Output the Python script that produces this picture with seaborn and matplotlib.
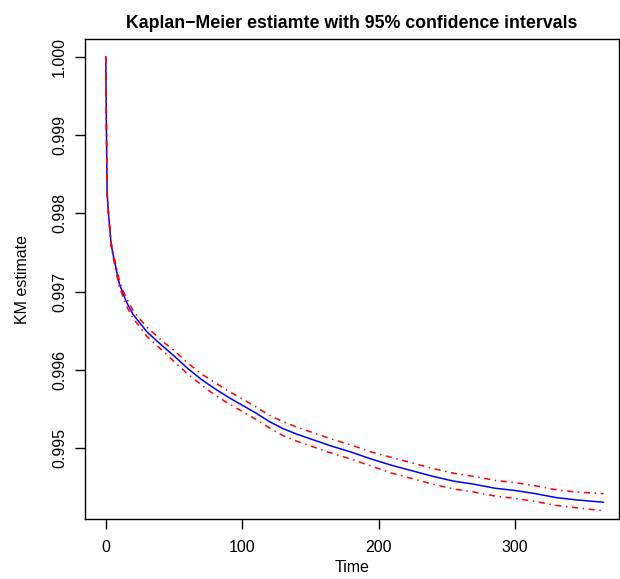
import numpy as np
import pandas as pd
import matplotlib
matplotlib.use("Agg")
import matplotlib.pyplot as plt
import seaborn as sns

sns.set_style("white")
plt.rcParams["font.family"] = ["Liberation Sans", "DejaVu Sans"]
plt.rcParams["text.color"] = "black"
plt.rcParams["axes.labelcolor"] = "black"

# KM estimate with 95% CI
time = [0, 1, 2, 4, 6, 8, 10, 13, 16, 20, 25, 30, 35, 42, 50, 60, 70, 80, 90, 100,
        110, 120, 130, 140, 150, 165, 180, 195, 210, 225, 240, 255, 270, 285, 300,
        315, 330, 345, 365]
km = [1.00000, 0.99826, 0.99800, 0.99760, 0.99742, 0.99726, 0.99710, 0.99696,
      0.99684, 0.99671, 0.99660, 0.99649, 0.99641, 0.99630, 0.99618, 0.99602,
      0.99588, 0.99576, 0.99565, 0.99555, 0.99545, 0.99534, 0.99525, 0.99518,
      0.99512, 0.99503, 0.99495, 0.99486, 0.99478, 0.99471, 0.99464, 0.99458,
      0.99454, 0.99449, 0.99446, 0.99442, 0.99437, 0.99434, 0.99431]
upper = [1.00000, 0.99828, 0.99802, 0.99763, 0.99745, 0.99730, 0.99714, 0.99700,
         0.99689, 0.99676, 0.99665, 0.99655, 0.99647, 0.99636, 0.99625, 0.99609,
         0.99595, 0.99584, 0.99573, 0.99563, 0.99553, 0.99542, 0.99534, 0.99527,
         0.99521, 0.99512, 0.99504, 0.99495, 0.99488, 0.99481, 0.99474, 0.99468,
         0.99464, 0.99459, 0.99456, 0.99452, 0.99447, 0.99444, 0.99442]
lower = [1.00000, 0.99824, 0.99798, 0.99757, 0.99739, 0.99722, 0.99706, 0.99692,
         0.99679, 0.99666, 0.99655, 0.99643, 0.99635, 0.99624, 0.99611, 0.99595,
         0.99581, 0.99568, 0.99557, 0.99547, 0.99537, 0.99526, 0.99516, 0.99509,
         0.99503, 0.99494, 0.99486, 0.99477, 0.99468, 0.99461, 0.99454, 0.99448,
         0.99444, 0.99439, 0.99436, 0.99432, 0.99427, 0.99424, 0.99420]

x_ticks = [0, 100, 200, 300]
y_ticks = [0.995, 0.996, 0.997, 0.998, 0.999, 1.000]

df = pd.DataFrame({"time": time, "km": km, "upper": upper, "lower": lower})

fig = plt.figure(figsize=(6.2, 5.79), dpi=100)
ax = fig.add_axes([85 / 620, 1 - 519 / 579, 534 / 620, 480 / 579])

# the first drop is a vertical step, the rest is many tiny steps -> plain line
sns.lineplot(data=df, x="time", y="km", ax=ax, color="blue", lw=1.1,
             estimator=None)
for col in ["upper", "lower"]:
    sns.lineplot(data=df, x="time", y=col, ax=ax, color="red", lw=1.1,
                 estimator=None, dashes=False, linestyle=(0, (4, 3, 1, 3)))

ax.set_xlim(-15.2, 376.3)
ax.set_ylim(0.994096, 1.000226)
ax.set_xticks(x_ticks)
ax.set_yticks(y_ticks)
ax.set_yticklabels([f"{v:.3f}" for v in y_ticks], rotation=90, va="center")

for s in ax.spines.values():
    s.set_visible(True)
    s.set_color("black")
    s.set_linewidth(1.0)

ax.tick_params(axis="both", direction="out", length=7, width=1.0, colors="black",
               labelsize=11.5)
ax.tick_params(axis="x", pad=8, bottom=True)
ax.tick_params(axis="y", pad=6, left=True)

ax.set_xlabel("Time", fontsize=11.5, labelpad=4)
ax.set_ylabel("KM estimate", fontsize=11.5, labelpad=16)
ax.set_title("Kaplan\u2212Meier estiamte with 95% confidence intervals",
             fontsize=12.8, fontweight="bold", pad=8)
ax.grid(False)

fig.savefig("out.png", dpi=100)
